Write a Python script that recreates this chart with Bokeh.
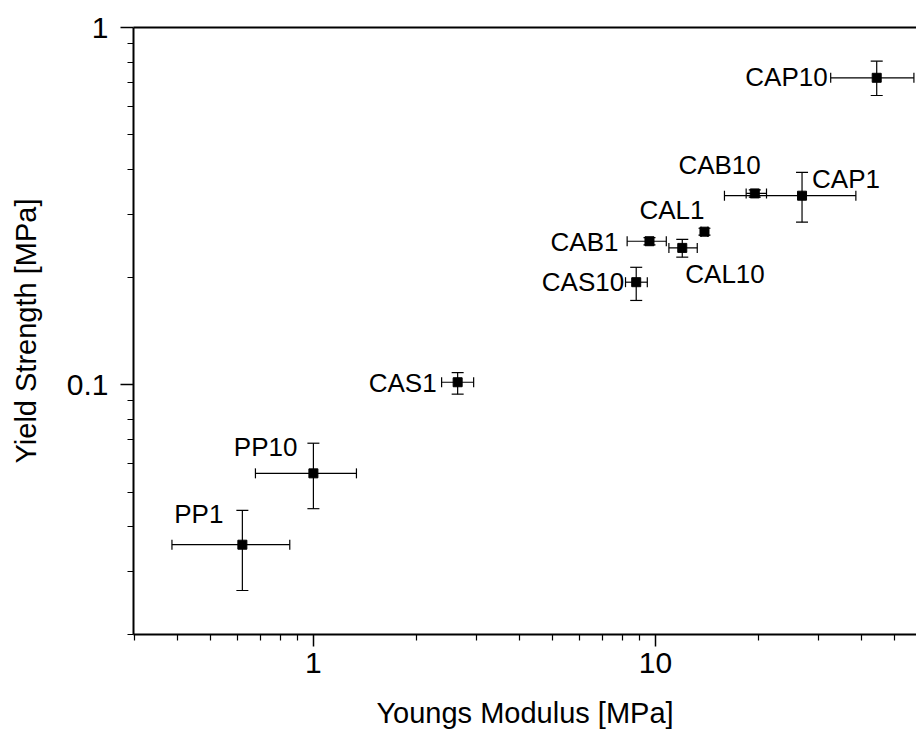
from bokeh.plotting import figure
from bokeh.models import (ColumnDataSource, FixedTicker, CustomJSTickFormatter,
                          Whisker, TeeHead, LogAxis)
from bokeh.embed import file_html
from bokeh.resources import INLINE
from bokeh.core.properties import value

# ---- data ----
labels = ["PP1", "PP10", "CAS1", "CAS10", "CAB1", "CAL10", "CAL1", "CAB10", "CAP1", "CAP10"]
modulus = [0.62, 1.0, 2.64, 8.78, 9.6, 11.97, 13.9, 19.5, 26.8, 44.3]
modulus_lo = [0.386, 0.677, 2.37, 8.17, 8.26, 10.94, 13.6, 18.4, 15.9, 32.5]
modulus_hi = [0.853, 1.336, 2.94, 9.46, 10.75, 13.24, 14.2, 21.1, 38.5, 56.9]
strength = [0.0356, 0.0564, 0.1015, 0.1935, 0.252, 0.2414, 0.268, 0.343, 0.338, 0.723]
strength_lo = [0.0265, 0.0449, 0.094, 0.172, 0.246, 0.2274, 0.262, 0.335, 0.285, 0.645]
strength_hi = [0.0444, 0.0685, 0.108, 0.213, 0.258, 0.255, 0.274, 0.351, 0.393, 0.805]

x_major = [1, 10]
x_minor = [0.3, 0.4, 0.5, 0.6, 0.7, 0.8, 0.9, 2, 3, 4, 5, 6, 7, 8, 9, 20, 30, 40, 50]
y_major = [0.1, 1]
y_minor = [0.02, 0.03, 0.04, 0.05, 0.06, 0.07, 0.08, 0.09, 0.2, 0.3, 0.4, 0.5, 0.6, 0.7, 0.8, 0.9]

# label placement (screen pixels relative to each point)
label_align = ["right", "right", "right", "right", "right", "left", "right", "right", "left", "right"]
label_dx = [-19, -16, -21, -12, -31, 3, 0, 6, 10, -49]
label_dy = [-31, -26, 1, 0, 1, 26, -22, -28, -17, -1]

FONT = "Liberation Sans"

src = ColumnDataSource(dict(
    x=modulus, xl=modulus_lo, xh=modulus_hi,
    y=strength, yl=strength_lo, yh=strength_hi,
    label=labels, align=label_align, dx=label_dx, dy=label_dy,
))

p = figure(width=916, height=747, x_axis_type="log", y_axis_type="log",
           x_range=(0.298, 57.9), y_range=(0.01995, 1.0),
           output_backend="svg", toolbar_location=None,
           min_border_left=133, min_border_right=0, min_border_top=27, min_border_bottom=113)
p.outline_line_color = None
p.grid.visible = False
p.background_fill_color = "white"
p.border_fill_color = "white"

fmt = CustomJSTickFormatter(code="return String(Math.round(tick*100)/100);")

xa = p.xaxis[0]
xa.ticker = FixedTicker(ticks=x_major, minor_ticks=x_minor)
xa.formatter = fmt
ya = p.yaxis[0]
ya.ticker = FixedTicker(ticks=y_major, minor_ticks=y_minor)
ya.formatter = fmt

for ax in (xa, ya):
    ax.axis_line_width = 2
    ax.axis_line_color = "black"
    ax.major_tick_line_width = 1.5
    ax.minor_tick_line_width = 1.2
    ax.major_tick_in = 0
    ax.minor_tick_in = 0
    ax.major_tick_out = 12
    ax.minor_tick_out = 6
    ax.major_label_text_font = FONT
    ax.major_label_text_font_size = "30px"
    ax.major_label_text_color = "black"
    ax.axis_label_text_font = FONT
    ax.axis_label_text_font_size = "29px"
    ax.axis_label_text_font_style = "normal"
    ax.axis_label_text_color = "black"

xa.axis_label = "Youngs Modulus [MPa]"
xa.major_label_standoff = 6
xa.axis_label_standoff = 21
ya.axis_label = "Yield Strength [MPa]"
ya.major_tick_out = 13
ya.major_label_standoff = 12
ya.axis_label_standoff = 22

top = LogAxis(ticker=FixedTicker(ticks=[], minor_ticks=[]), axis_line_width=2,
              major_label_text_font_size="0px", major_tick_line_color=None,
              minor_tick_line_color=None)
p.add_layout(top, "above")

# error bars
p.add_layout(Whisker(source=src, base="y", lower="xl", upper="xh", dimension="width",
                     line_color="black", line_width=1.2,
                     lower_head=TeeHead(size=10, line_color="black", line_width=1.2),
                     upper_head=TeeHead(size=10, line_color="black", line_width=1.2)))
p.add_layout(Whisker(source=src, base="x", lower="yl", upper="yh", dimension="height",
                     line_color="black", line_width=1.2,
                     lower_head=TeeHead(size=12, line_color="black", line_width=1.2),
                     upper_head=TeeHead(size=12, line_color="black", line_width=1.2)))

p.scatter("x", "y", source=src, marker="square", size=9, fill_color="black", line_color="black")

p.text("x", "y", text="label", source=src, text_align="align", text_baseline="middle",
       x_offset="dx", y_offset="dy", text_font=value(FONT), text_font_size="26px",
       text_color="black")

open("out.html", "w").write(file_html(p, INLINE))
